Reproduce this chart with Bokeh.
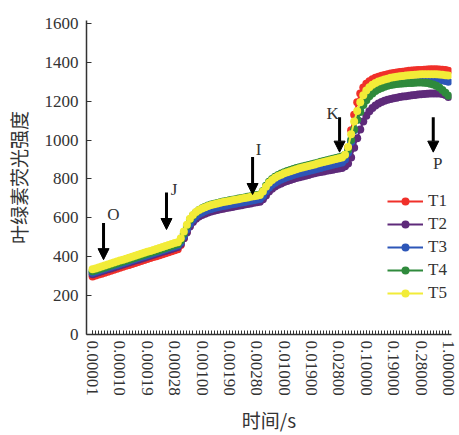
from bokeh.plotting import figure
from bokeh.models import FixedTicker, Range1d, Arrow, NormalHead, Label
from bokeh.embed import file_html
from bokeh.resources import INLINE

# ---------------- data ----------------
series_names = ["T1", "T2", "T3", "T4", "T5"]
series_colors = ["#f0302a", "#5e2a7a", "#2d56b8", "#2f8a3c", "#f2ec38"]

tick_labels = ["0.00001", "0.00010", "0.00019", "0.00028", "0.00100", "0.00190",
               "0.00280", "0.01000", "0.01900", "0.02800", "0.10000", "0.19000",
               "0.28000", "1.00000"]

T1 = [298, 303, 308, 313, 318, 323, 328, 333, 338, 343, 348, 353, 358, 363, 368, 373, 378, 383, 388, 393,
      398, 403, 408, 413, 418, 423, 428, 433, 438,
      460, 495, 530, 562, 585, 602, 614,
      622, 629, 635, 640, 644, 648, 652, 655, 658, 661, 664, 667, 670, 673, 676, 679, 682, 685, 688, 691,
      705, 728, 748, 763, 774, 783, 790, 797, 803, 808, 813, 818,
      822, 826, 830, 834, 838, 842, 846, 850, 854, 858, 862, 866, 870, 874, 878,
      900, 960, 1050, 1130, 1195, 1240, 1270, 1290, 1303, 1313,
      1320, 1326, 1331, 1335, 1339, 1342, 1345, 1348, 1350, 1352,
      1354, 1356, 1358, 1359, 1360, 1361, 1362, 1363, 1364, 1364,
      1364, 1363, 1362, 1360, 1357]

T2 = [310, 315, 320, 325, 330, 335, 340, 345, 350, 355, 360, 365, 370, 375, 380, 385, 390, 395, 400, 405,
      410, 415, 420, 425, 430, 435, 440, 445, 450,
      465, 495, 525, 555, 578, 595, 607,
      615, 621, 627, 632, 636, 640, 644, 647, 650, 653, 656, 659, 662, 665, 668, 671, 674, 677, 680, 683,
      695, 715, 735, 750, 761, 770, 777, 784, 790, 795, 800, 805,
      809, 813, 817, 821, 825, 829, 833, 836, 839, 842, 845, 848, 851, 854, 857,
      865, 880, 910, 960, 1010, 1055, 1095, 1125, 1148, 1165,
      1178, 1188, 1196, 1202, 1207, 1211, 1215, 1218, 1221, 1224,
      1226, 1228, 1230, 1232, 1234, 1236, 1237, 1238, 1239, 1240,
      1240, 1239, 1237, 1232, 1222]

T3 = [318, 323, 328, 333, 338, 343, 348, 353, 358, 363, 368, 373, 378, 383, 388, 393, 398, 403, 408, 413,
      418, 423, 428, 433, 438, 443, 448, 453, 458,
      475, 505, 540, 570, 592, 608, 620,
      628, 635, 641, 646, 650, 654, 658, 661, 664, 667, 670, 673, 676, 679, 682, 685, 688, 691, 694, 697,
      712, 735, 755, 770, 781, 790, 797, 804, 810, 815, 820, 825,
      829, 833, 837, 841, 845, 849, 853, 857, 861, 865, 869, 873, 877, 881, 885,
      900, 935, 990, 1050, 1105, 1150, 1185, 1212, 1232, 1247,
      1259, 1268, 1276, 1282, 1287, 1291, 1295, 1298, 1301, 1303,
      1305, 1307, 1309, 1310, 1311, 1312, 1313, 1314, 1314, 1314,
      1313, 1311, 1308, 1304, 1300]

T4 = [325, 330, 335, 340, 345, 350, 355, 360, 365, 370, 375, 380, 385, 390, 395, 400, 405, 410, 415, 420,
      425, 430, 435, 440, 445, 450, 455, 460, 465,
      485, 520, 558, 590, 612, 628, 640,
      649, 657, 663, 668, 672, 676, 680, 684, 687, 690, 693, 696, 699, 702, 705, 708, 711, 714, 717, 720,
      738, 765, 785, 800, 811, 820, 828, 835, 841, 846, 851, 856,
      860, 864, 868, 872, 876, 880, 884, 888, 892, 896, 900, 904, 908, 912, 915,
      925, 950, 1000, 1055, 1105, 1145, 1180, 1205, 1225, 1240,
      1252, 1261, 1268, 1274, 1279, 1283, 1286, 1288, 1290, 1291,
      1292, 1293, 1294, 1295, 1296, 1296, 1295, 1293, 1290, 1286,
      1280, 1271, 1258, 1243, 1228]

T5 = [335, 340, 345, 350, 355, 360, 365, 370, 375, 380, 385, 390, 395, 400, 405, 410, 415, 420, 425, 430,
      435, 440, 445, 450, 455, 460, 465, 470, 475,
      495, 530, 565, 595, 615, 630, 640,
      648, 655, 661, 666, 670, 674, 678, 681, 684, 687, 690, 693, 696, 699, 702, 705, 708, 711, 714, 717,
      735, 760, 780, 795, 806, 815, 822, 829, 835, 840, 845, 850,
      855, 859, 863, 867, 871, 875, 879, 883, 887, 891, 895, 899, 903, 907, 911,
      925, 965, 1030, 1095, 1150, 1195, 1230, 1255, 1272, 1285,
      1294, 1301, 1307, 1312, 1316, 1320, 1323, 1326, 1328, 1330,
      1332, 1334, 1335, 1336, 1337, 1338, 1338, 1339, 1339, 1339,
      1338, 1337, 1336, 1334, 1332]

series_values = [T1, T2, T3, T4, T5]

phase_names = ["O", "J", "I", "K", "P"]
x_title = "时间/s"
y_title = "叶绿素荧光强度"

# ---------------- figure ----------------
n = len(T1)
x = list(range(n))
label_step = (n - 1) // (len(tick_labels) - 1)
tick_idx = [i * label_step for i in range(len(tick_labels))]

SERIF = "Liberation Serif"
CJK = "Noto Sans CJK SC"
TXT = "#333333"

p = figure(width=459, height=435, output_backend="svg", toolbar_location=None,
           x_range=Range1d(-2, 118), y_range=Range1d(0, 1615),
           min_border_left=86, min_border_right=8, min_border_top=20, min_border_bottom=100)
p.outline_line_color = None
p.xgrid.grid_line_color = None
p.ygrid.grid_line_color = None
p.background_fill_color = "white"
p.border_fill_color = "white"

for name, col, vals in zip(series_names, series_colors, series_values):
    p.line(x, vals, line_color=col, line_width=2, legend_label=name)
    p.scatter(x, vals, size=8, fill_color=col, line_color=None, legend_label=name)

# x axis
p.xaxis.ticker = FixedTicker(ticks=tick_idx, minor_ticks=x)
p.xaxis.major_label_overrides = {i: lab for i, lab in zip(tick_idx, tick_labels)}
p.xaxis.major_label_orientation = "vertical"
p.xaxis.axis_label = x_title
p.xaxis.major_tick_in = 4
p.xaxis.major_tick_out = 0
p.xaxis.minor_tick_in = 4
p.xaxis.minor_tick_out = 0
p.xaxis.major_label_standoff = 6
p.xaxis.axis_label_standoff = 7

# y axis
p.yaxis.ticker = FixedTicker(ticks=[0, 200, 400, 600, 800, 1000, 1200, 1400, 1600])
p.yaxis.axis_label = y_title
p.yaxis.major_tick_in = 5
p.yaxis.major_tick_out = 0
p.yaxis.minor_tick_line_color = None
p.yaxis.major_label_standoff = 8
p.yaxis.axis_label_standoff = 10

for ax in (p.xaxis[0], p.yaxis[0]):
    ax.axis_line_color = TXT
    ax.axis_line_width = 1.5
    ax.major_tick_line_color = TXT
    ax.minor_tick_line_color = TXT if ax is p.xaxis[0] else None
    ax.major_label_text_font = SERIF
    ax.major_label_text_font_size = "17px"
    ax.major_label_text_color = TXT
    ax.axis_label_text_font = CJK
    ax.axis_label_text_font_size = "19px"
    ax.axis_label_text_font_style = "normal"
    ax.axis_label_text_color = TXT

# phase arrows and letters
arrow_pos = [(3.6, 574, 385), (24.3, 730, 540), (52.6, 913, 720), (81.2, 1118, 938), (112.0, 1118, 938)]
letter_pos = [(6.8, 615), (26.8, 744), (54.6, 950), (78.9, 1138), (113.5, 882)]
for (ax_, y0, y1), (lx, ly), name in zip(arrow_pos, letter_pos, phase_names):
    p.add_layout(Arrow(end=NormalHead(size=11, fill_color="black", line_color="black"),
                       x_start=ax_, y_start=y0, x_end=ax_, y_end=y1,
                       line_color="black", line_width=3))
    p.add_layout(Label(x=lx, y=ly, text=name, text_font=SERIF, text_font_size="17px",
                       text_color=TXT, text_align="center", text_baseline="middle"))

# legend
lg = p.legend[0]
lg.location = (301, 31)
lg.background_fill_alpha = 0
lg.border_line_alpha = 0
lg.padding = 0
lg.margin = 0
lg.spacing = 3
lg.glyph_width = 36
lg.glyph_height = 20
lg.label_height = 20
lg.label_standoff = 5
lg.label_text_font = SERIF
lg.label_text_font_size = "17px"
lg.label_text_color = TXT

open("out.html", "w").write(file_html(p, INLINE))
